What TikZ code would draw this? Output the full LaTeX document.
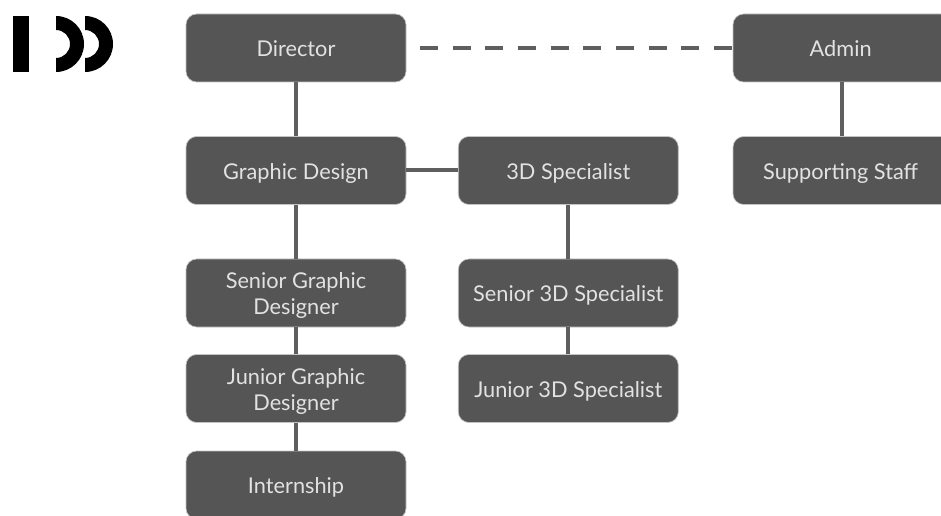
\documentclass[tikz,border=0pt]{standalone}
\usepackage{fontspec}
\setmainfont{Lato}
\definecolor{boxc}{HTML}{555555}
\definecolor{linec}{HTML}{5F5F5F}
\definecolor{textc}{HTML}{E2E2E2}
\newcommand{\lbl}[2][-1.9pt]{\raisebox{#1}[\height][\depth]{#2}}
\tikzset{
 px/.style={x=0.75pt,y=-0.75pt},
 orgbox/.style={fill=boxc,draw=boxc!35!white,line width=0.5pt,rounded corners=8pt,minimum width=165pt,minimum height=51pt,text=textc,align=center,font=\fontsize{16.3}{19.5}\selectfont,inner sep=0pt},
 sidebox/.style={orgbox,minimum width=163.5pt},
 conn/.style={draw=linec,line width=3pt},
 dashconn/.style={conn,dash pattern=on 13.5pt off 11pt},
 logoshape/.style={fill=black,draw=none}
}
\begin{document}
\begin{tikzpicture}[px]
\useasboundingbox (0,0) rectangle (941,516);
\node[orgbox] (dir) at (296,48) {\lbl[-0.6pt]{Director}};
\node[orgbox] (gd) at (296,170.5) {\lbl{Graphic Design}};
\node[orgbox] (sgd) at (296,293) {\lbl{Senior Graphic}\\\lbl{Designer}};
\node[orgbox] (jgd) at (296,388.5) {\lbl{Junior Graphic}\\\lbl{Designer}};
\node[orgbox] (int) at (296,485) {\lbl{Internship}};
\node[orgbox] (td) at (568.3,170.5) {\lbl{3D Specialist}};
\node[orgbox] (std) at (568.3,293) {\lbl{Senior 3D Specialist}};
\node[orgbox] (jtd) at (568.3,388.5) {\lbl{Junior 3D Specialist}};
\node[sidebox] (adm) at (842,48) {\lbl[-0.6pt]{\hspace*{-2pt}Admin}};
\node[sidebox] (sup) at (842,170.5) {\lbl{\hspace*{-2pt}Supporting Staff}};
\draw[conn] (dir) -- (gd);
\draw[conn] (gd) -- (sgd);
\draw[conn] (sgd) -- (jgd);
\draw[conn] (jgd) -- (int);
\draw[conn] (gd) -- (td);
\draw[conn] (td) -- (std);
\draw[conn] (std) -- (jtd);
\draw[conn] (adm) -- (sup);
\coordinate (dashs) at (420,48);
\draw[dashconn] (dashs) -- (adm.west);
\fill[logoshape] (13,16) rectangle (29,72);
\fill[logoshape] (56,16) arc[start angle=-90,end angle=90,radius=28] -- (56,58) arc[start angle=90,end angle=-90,radius=14] -- cycle;
\fill[logoshape] (85,16) arc[start angle=-90,end angle=90,radius=28] -- (85,58) arc[start angle=90,end angle=-90,radius=14] -- cycle;
\end{tikzpicture}
\end{document}
